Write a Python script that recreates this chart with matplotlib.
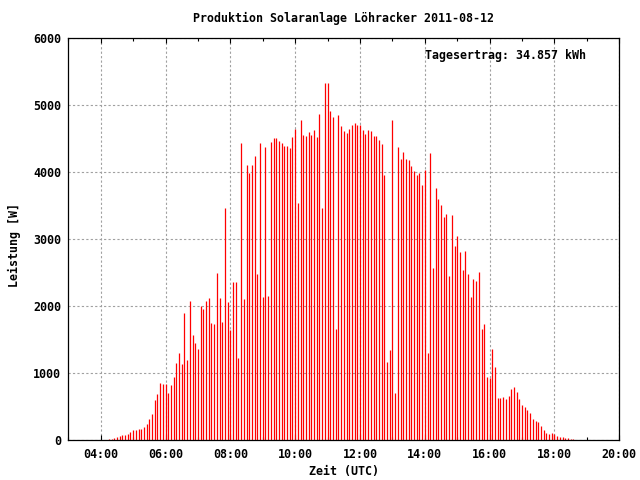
import numpy as np
import matplotlib
matplotlib.use("Agg")
import matplotlib.pyplot as plt
from matplotlib.ticker import FixedLocator, FuncFormatter

# 5-minute readings, first one at 04:15 UTC
start_hour = 4 + 15 / 60
step_hours = 5 / 60

power = [
    15, 15, 30, 45, 60, 75, 75, 90, 120, 150, 150, 165, 165, 195, 240, 315, 390, 600, 690, 855, 840,
    840, 705, 825, 945, 1155, 1305, 1140, 1890, 1200, 2070, 1575, 1455, 1365, 1995, 1950, 2070, 2115,
    1755, 1740, 2490, 2115, 1770, 3465, 2055,
    1650, 2355, 2355, 1230, 4440, 2100, 4110, 3990, 4110, 4245, 2475, 4440, 2130, 4380, 2145, 4455,
    4515, 4515, 4470, 4440, 4395, 4395, 4365, 4530,
    4650, 3540, 4785, 4560, 4545, 4605, 4560, 4635, 4530, 4875, 3465, 5340, 5340, 4920, 4830, 1665,
    4860, 4695, 4620, 4590, 4650, 4710, 4740, 4710,
    4710, 4635, 4575, 4635, 4620, 4545, 4545, 4485, 4425, 3960, 1170, 1350, 4785, 705, 4380, 4200,
    4305, 4200, 4185, 4095, 4020, 3960, 3990, 3810,
    4035, 1305, 4290, 2565, 3765, 3600, 3510, 3330, 3375, 2445, 3360, 2895, 3045, 2805, 2535, 2820,
    2475, 2130, 2400, 2370, 2505, 1665, 1740, 945, 930,
    1365, 1095, 630, 630, 645, 615, 660, 765, 795, 720, 615, 525, 495, 450, 405, 315, 285, 270, 210,
    150, 105, 90, 105, 90,
    60, 45, 45, 30, 30, 15, 15,
]

title = "Produktion Solaranlage Löhracker 2011-08-12"
total_text = "Tagesertrag: 34.857 kWh"
hour_ticks = [4, 6, 8, 10, 12, 14, 16, 18, 20]
minor_hours = [3, 5, 7, 9, 11, 13, 15, 17, 19]
y_ticks = [0, 1000, 2000, 3000, 4000, 5000, 6000]

font = {"family": "DejaVu Sans Mono", "weight": "bold", "size": 8.4}
plt.rcParams["font.family"] = "DejaVu Sans Mono"
plt.rcParams["font.weight"] = "bold"
plt.rcParams["font.size"] = 8.4

times = start_hour + np.arange(len(power)) * step_hours

fig = plt.figure(figsize=(6.4, 4.8), dpi=100)
ax = fig.add_axes([68.3 / 640, 40 / 480, (619.3 - 68.3) / 640, (441.6 - 40) / 480])

ax.vlines(times, 0, power, colors="#ff0000", linewidth=0.9)

ax.set_xlim(3, 20)
ax.set_ylim(0, 6000)
ax.xaxis.set_major_locator(FixedLocator(hour_ticks))
ax.xaxis.set_minor_locator(FixedLocator(minor_hours))
ax.xaxis.set_major_formatter(FuncFormatter(lambda v, p: "%02d:00" % int(v)))
ax.yaxis.set_major_locator(FixedLocator(y_ticks))

ax.grid(True, which="major", color="#a0a0a0", linestyle=(0, (2, 2)), linewidth=0.8)
ax.set_axisbelow(True)
ax.tick_params(axis="x", which="major", direction="in", length=3.5, width=0.8,
               top=True, pad=6, labelsize=8.4)
ax.tick_params(axis="x", which="minor", direction="in", length=2.0, width=0.8, top=True)
ax.tick_params(axis="y", which="both", length=0, pad=5, labelsize=8.4)
for lab in ax.get_xticklabels() + ax.get_yticklabels():
    lab.set_fontweight("bold")
for sp in ax.spines.values():
    sp.set_linewidth(0.9)
    sp.set_color("black")

fig.text(343.8 / 640, 1 - 18 / 480, title, ha="center", va="center", **font)
fig.text(343.8 / 640, 1 - 472 / 480, "Zeit (UTC)", ha="center", va="center", **font)
fig.text(14 / 640, 1 - 245 / 480, "Leistung [W]", ha="center", va="center",
         rotation=90, **font)
fig.text(586 / 640, 1 - 56 / 480, total_text, ha="right", va="center", **font)

fig.savefig("out.png", dpi=100)
